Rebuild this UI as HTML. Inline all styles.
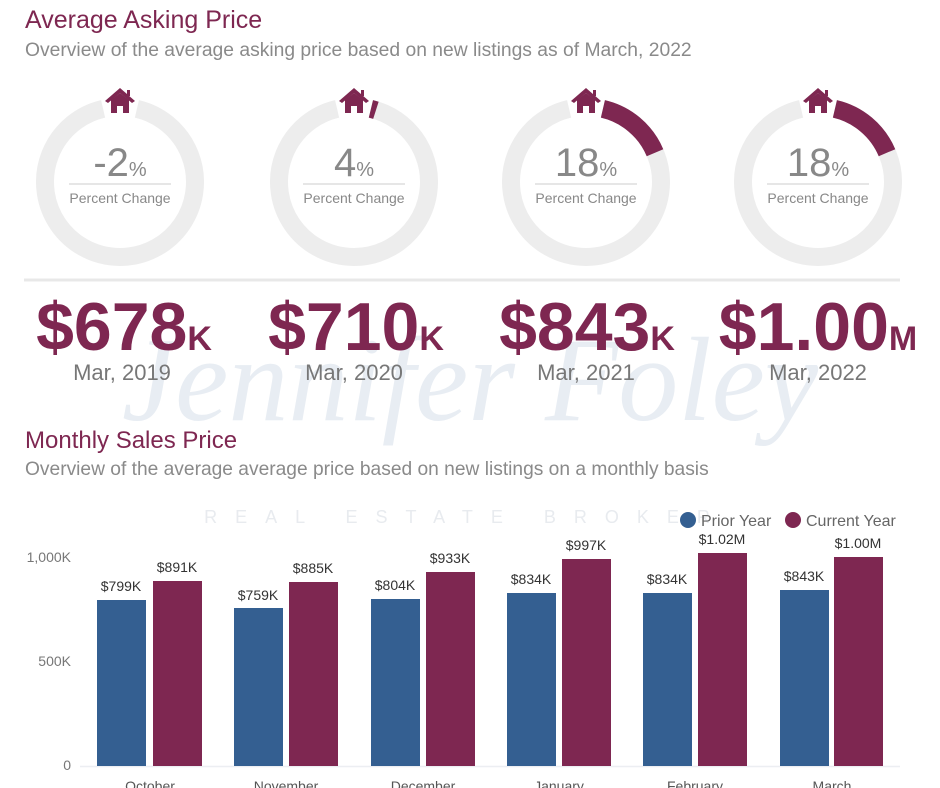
<!DOCTYPE html>
<html><head><meta charset="utf-8"><style>
html,body{margin:0;padding:0;background:#fff;}
svg{display:block;font-family:"Liberation Sans",sans-serif;}
</style></head><body>
<svg width="940" height="788" viewBox="0 0 940 788" xmlns="http://www.w3.org/2000/svg">
<!-- watermark -->
<text x="470" y="420" text-anchor="middle" font-family="Liberation Serif" font-style="italic" font-size="120" fill="#e8edf3">Jennifer Foley</text>
<text x="466" y="523" text-anchor="middle" font-size="18" letter-spacing="18" fill="#e8ebef">REAL  ESTATE  BROKER</text>

<text x="25" y="28" font-size="25" fill="#7e2751">Average Asking Price</text>
<text x="25" y="56" font-size="19.3" fill="#8a8a8a">Overview of the average asking price based on new listings as of March, 2022</text>

<defs>
<g id="house" fill="#7e2751">
  <path d="M0,-14 L15,-1 L12,1 L0,-9 L-12,1 L-15,-1 Z"/>
  <rect x="7" y="-12" width="3" height="6"/>
  <path d="M-9,-2 L0,-9 L9,-2 L9,11 L3,11 L3,4 L-3,4 L-3,11 L-9,11 Z"/>
</g>
<path id="ring" d="M16.9,-73.1 A75,75 0 1 1 -16.9,-73.1" fill="none" stroke="#ededed" stroke-width="18"/>
</defs>

<g transform="translate(120,182)">
<use href="#ring"/>
<use href="#house" transform="translate(0,-80)"/>
<text x="0" y="-6" text-anchor="middle" fill="#888"><tspan font-size="40">-2</tspan><tspan font-size="20">%</tspan></text>
<line x1="-51" y1="2" x2="51" y2="2" stroke="#e6e6e6" stroke-width="2"/>
<text x="0" y="21" text-anchor="middle" font-size="14" fill="#888">Percent Change</text>
</g>
<g transform="translate(354,182)">
<use href="#ring"/>
<path d="M16.9,-73.1 A75,75 0 0 1 21.9,-71.7" fill="none" stroke="#7e2751" stroke-width="18"/>
<use href="#house" transform="translate(0,-80)"/>
<text x="0" y="-6" text-anchor="middle" fill="#888"><tspan font-size="40">4</tspan><tspan font-size="20">%</tspan></text>
<line x1="-51" y1="2" x2="51" y2="2" stroke="#e6e6e6" stroke-width="2"/>
<text x="0" y="21" text-anchor="middle" font-size="14" fill="#888">Percent Change</text>
</g>
<g transform="translate(586,182)">
<use href="#ring"/>
<path d="M16.9,-73.1 A75,75 0 0 1 69.0,-29.3" fill="none" stroke="#7e2751" stroke-width="18"/>
<use href="#house" transform="translate(0,-80)"/>
<text x="0" y="-6" text-anchor="middle" fill="#888"><tspan font-size="40">18</tspan><tspan font-size="20">%</tspan></text>
<line x1="-51" y1="2" x2="51" y2="2" stroke="#e6e6e6" stroke-width="2"/>
<text x="0" y="21" text-anchor="middle" font-size="14" fill="#888">Percent Change</text>
</g>
<g transform="translate(818,182)">
<use href="#ring"/>
<path d="M16.9,-73.1 A75,75 0 0 1 69.0,-29.3" fill="none" stroke="#7e2751" stroke-width="18"/>
<use href="#house" transform="translate(0,-80)"/>
<text x="0" y="-6" text-anchor="middle" fill="#888"><tspan font-size="40">18</tspan><tspan font-size="20">%</tspan></text>
<line x1="-51" y1="2" x2="51" y2="2" stroke="#e6e6e6" stroke-width="2"/>
<text x="0" y="21" text-anchor="middle" font-size="14" fill="#888">Percent Change</text>
</g>

<line x1="24" y1="280" x2="900" y2="280" stroke="#e8e8e8" stroke-width="3"/>

<g font-weight="bold" fill="#7e2751" text-anchor="middle">
<text x="124" y="350"><tspan font-size="68">$678</tspan><tspan font-size="34">K</tspan></text>
<text x="356" y="350"><tspan font-size="68">$710</tspan><tspan font-size="34">K</tspan></text>
<text x="587" y="350"><tspan font-size="68">$843</tspan><tspan font-size="34">K</tspan></text>
<text x="818" y="350"><tspan font-size="68">$1.00</tspan><tspan font-size="34">M</tspan></text>
</g>
<g font-size="22" fill="#777" text-anchor="middle">
<text x="122" y="380">Mar, 2019</text>
<text x="354" y="380">Mar, 2020</text>
<text x="586" y="380">Mar, 2021</text>
<text x="818" y="380">Mar, 2022</text>
</g>

<text x="25" y="448" font-size="24" fill="#7e2751">Monthly Sales Price</text>
<text x="25" y="475" font-size="19.2" fill="#8a8a8a">Overview of the average average price based on new listings on a monthly basis</text>

<circle cx="688" cy="520" r="8" fill="#345f91"/>
<text x="701" y="526" font-size="16" fill="#666">Prior Year</text>
<circle cx="793" cy="520" r="8" fill="#7e2751"/>
<text x="806" y="526" font-size="16" fill="#666">Current Year</text>

<g font-size="14" fill="#777" text-anchor="end">
<text x="71" y="562">1,000K</text>
<text x="71" y="666">500K</text>
<text x="71" y="770">0</text>
</g>
<line x1="80" y1="766.5" x2="900" y2="766.5" stroke="#eceef2" stroke-width="1.5"/>

<g>
<rect x="97" y="600" width="49" height="166" fill="#345f91"/>
<rect x="153" y="581" width="49" height="185" fill="#7e2751"/>
<rect x="234" y="608" width="49" height="158" fill="#345f91"/>
<rect x="289" y="582" width="49" height="184" fill="#7e2751"/>
<rect x="371" y="599" width="49" height="167" fill="#345f91"/>
<rect x="426" y="572" width="49" height="194" fill="#7e2751"/>
<rect x="507" y="593" width="49" height="173" fill="#345f91"/>
<rect x="562" y="559" width="49" height="207" fill="#7e2751"/>
<rect x="643" y="593" width="49" height="173" fill="#345f91"/>
<rect x="698" y="553" width="49" height="213" fill="#7e2751"/>
<rect x="780" y="590" width="49" height="176" fill="#345f91"/>
<rect x="834" y="557" width="49" height="209" fill="#7e2751"/>
</g>
<g font-size="14" fill="#333" text-anchor="middle">
<text x="121" y="591">$799K</text>
<text x="177" y="572">$891K</text>
<text x="258" y="600">$759K</text>
<text x="313" y="573">$885K</text>
<text x="395" y="590">$804K</text>
<text x="450" y="563">$933K</text>
<text x="531" y="584">$834K</text>
<text x="586" y="550">$997K</text>
<text x="667" y="584">$834K</text>
<text x="722" y="544">$1.02M</text>
<text x="804" y="581">$843K</text>
<text x="858" y="548">$1.00M</text>
</g>
<g font-size="14" fill="#555" text-anchor="middle">
<text x="150" y="791">October</text>
<text x="286" y="791">November</text>
<text x="423" y="791">December</text>
<text x="559" y="791">January</text>
<text x="695" y="791">February</text>
<text x="832" y="791">March</text>
</g>
</svg>
</body></html>
